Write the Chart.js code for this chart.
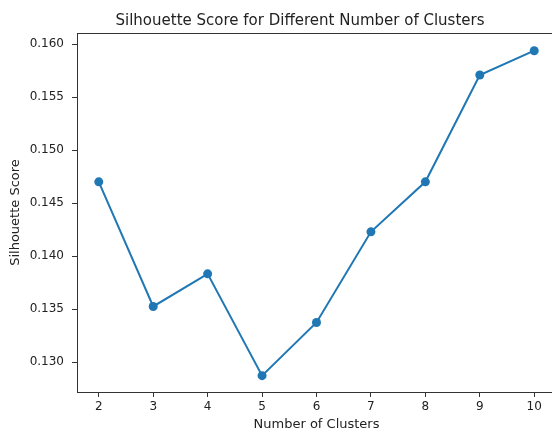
<!DOCTYPE html>
<html>
<head>
<meta charset="utf-8">
<script src="https://cdn.jsdelivr.net/npm/chart.js@4.4.1/dist/chart.umd.min.js"></script>
<style>
  html, body { margin: 0; padding: 0; background: #fff; overflow: hidden; }
  #wrap { width: 552px; height: 432px; overflow: hidden; }
</style>
</head>
<body>
<div id="wrap"><canvas id="silhouetteChart" width="600" height="432"></canvas></div>
<script>
// Chart Data
const clusters = [2, 3, 4, 5, 6, 7, 8, 9, 10];
const scores = [0.1470, 0.13524, 0.13832, 0.12871, 0.13373, 0.14228, 0.1470, 0.15708, 0.15937];
const xTicks = [2, 3, 4, 5, 6, 7, 8, 9, 10];
const yTicks = [0.130, 0.135, 0.140, 0.145, 0.150, 0.155, 0.160];

const FONT = "'DejaVu Sans', sans-serif";
const TEXT = "#222";
const SPINE = "#333";

Chart.defaults.font.family = FONT;
Chart.defaults.color = TEXT;

// Chart Config
const config = {
  type: "line",
  data: {
    datasets: [
      {
        data: clusters.map((c, i) => ({ x: c, y: scores[i] })),
        borderColor: "#1f77b4",
        backgroundColor: "#1f77b4",
        borderWidth: 2,
        pointRadius: 4.5,
        pointHoverRadius: 4.5,
        pointBorderWidth: 0,
        tension: 0,
      },
    ],
  },
  options: {
    responsive: false,
    animation: false,
    layout: { padding: 0 },
    plugins: {
      legend: { display: false },
      tooltip: { enabled: false },
      title: {
        display: true,
        text: "Silhouette Score for Different Number of Clusters",
        color: TEXT,
        font: { size: 15, weight: "normal", family: FONT },
        padding: { top: 12, bottom: 3 },
      },
    },
    scales: {
      x: {
        type: "linear",
        min: 1.6,
        max: 10.4,
        afterBuildTicks: (s) => { s.ticks = xTicks.map((v) => ({ value: v })); },
        afterFit: (s) => { s.height = 40; },
        grid: { drawOnChartArea: false, drawTicks: true, tickLength: 5, color: SPINE },
        border: { display: true, color: SPINE, width: 1 },
        ticks: { padding: 3, font: { size: 12 }, color: TEXT, maxRotation: 0 },
        title: {
          display: true,
          text: "Number of Clusters",
          font: { size: 13 },
          color: TEXT,
          padding: { top: 2, bottom: 0 },
        },
      },
      xTop: {
        type: "linear",
        position: "top",
        min: 1.6,
        max: 10.4,
        afterFit: (s) => { s.height = 0; },
        grid: { display: false, drawTicks: false },
        border: { display: true, color: SPINE, width: 1 },
        ticks: { display: false },
      },
      y: {
        min: 0.12717,
        max: 0.16104,
        afterBuildTicks: (s) => { s.ticks = yTicks.map((v) => ({ value: v })); },
        afterFit: (s) => { s.width = 77; },
        grid: { drawOnChartArea: false, drawTicks: true, tickLength: 5, color: SPINE },
        border: { display: true, color: SPINE, width: 1 },
        ticks: {
          padding: 8,
          font: { size: 12 },
          color: TEXT,
          callback: (v) => v.toFixed(3),
        },
        title: {
          display: true,
          text: "Silhouette Score",
          font: { size: 13 },
          color: TEXT,
          padding: { top: 8, bottom: 0 },
        },
      },
      // right side spacer: keeps the title centred where the reference has it
      yRight: {
        position: "right",
        min: 0.12717,
        max: 0.16104,
        afterFit: (s) => { s.width = 44; },
        grid: { display: false, drawTicks: false },
        border: { display: false },
        ticks: { display: false },
      },
    },
  },
};

// Initialize Chart
const ctx = document.getElementById("silhouetteChart");
new Chart(ctx, config);
</script>
</body>
</html>
